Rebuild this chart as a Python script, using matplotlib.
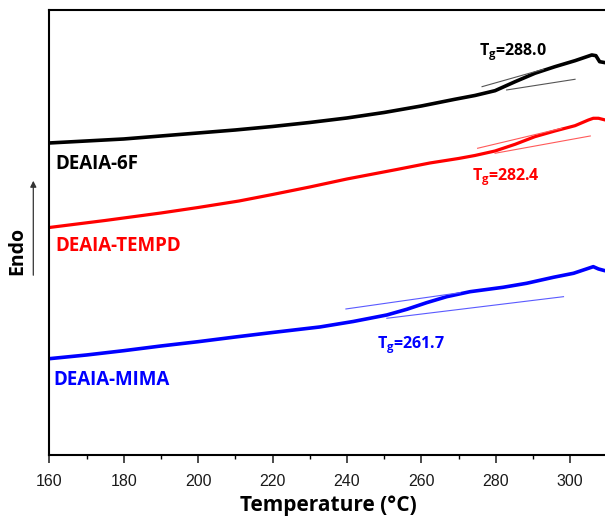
import numpy as np
import matplotlib.pyplot as plt
from matplotlib.ticker import MultipleLocator

plt.rcParams['font.family'] = ['Open Sans', 'DejaVu Sans']
plt.rcParams['mathtext.fontset'] = 'custom'
plt.rcParams['mathtext.rm'] = 'Open Sans'
plt.rcParams['mathtext.bf'] = 'Open Sans:bold'

# DSC traces (heat flow, arbitrary units, endo up)
t_6f = [160, 170, 180, 190, 200, 210, 220, 230, 240, 250, 260, 269, 274.4,
        279.8, 285.2, 290.5, 295.9, 301.3, 305.8, 306.9, 307.9, 309.4, 310]
hf_6f = [3.12, 3.14, 3.16, 3.19, 3.22, 3.25, 3.285, 3.325, 3.37, 3.425, 3.49,
         3.557, 3.595, 3.643, 3.733, 3.817, 3.883, 3.943, 4.00, 3.993, 3.933,
         3.923, 3.92]

t_tempd = [160, 175, 190, 200, 211, 220, 230, 240, 253.4, 262.3, 270, 274.4,
           279.8, 285.2, 290.5, 295.9, 301.3, 304.9, 306.2, 307.6, 309.4, 310]
hf_tempd = [2.275, 2.345, 2.42, 2.475, 2.54, 2.605, 2.68, 2.76, 2.855, 2.92,
            2.965, 2.995, 3.04, 3.107, 3.183, 3.24, 3.293, 3.35, 3.367, 3.367,
            3.35, 3.345]

t_mima = [160, 170, 180, 190, 200, 210, 220, 232.7, 241.7, 250.7, 256.1, 261.4,
          266.8, 273.1, 282, 288.3, 295.5, 300.9, 306.2, 307.6, 309.3, 310]
hf_mima = [0.963, 1.00, 1.043, 1.09, 1.133, 1.18, 1.225, 1.28, 1.335, 1.40,
           1.457, 1.523, 1.583, 1.633, 1.677, 1.717, 1.777, 1.817, 1.883, 1.86,
           1.843, 1.84]

# tangent construction lines: (T0, T1), (hf0, hf1)
tan_6f = [((276.3, 292.8), (3.683, 3.857)), ((282.9, 301.3), (3.65, 3.757))]
tan_tempd = [((275.1, 297.7), (3.067, 3.267)), ((279.8, 305.4), (3.017, 3.19))]
tan_mima = [((239.7, 270.4), (1.46, 1.623)), ((250.7, 298.2), (1.367, 1.583))]

samples = ["DEAIA-6F", "DEAIA-TEMPD", "DEAIA-MIMA"]
tg_values = [288.0, 282.4, 261.7]

fig = plt.figure(figsize=(6.05, 5.22), dpi=100)
ax = fig.add_axes([0.0817, 0.1284, 0.9223, 0.8525])

ax.plot(t_6f, hf_6f, color="black", lw=2.6)
ax.plot(t_tempd, hf_tempd, color="#ff0000", lw=2.3)
ax.plot(t_mima, hf_mima, color="#0000ff", lw=2.6)

for (tx, hy) in tan_6f:
    ax.plot(tx, hy, color="#555555", lw=0.8)
for (tx, hy) in tan_tempd:
    ax.plot(tx, hy, color="#ff5a5a", lw=0.8)
for (tx, hy) in tan_mima:
    ax.plot(tx, hy, color="#5a5aff", lw=0.8)

# sample names
ax.text(161.5, 2.857, samples[0], color="black", fontsize=13.5,
        fontweight="bold", ha="left", va="baseline")
ax.text(161.5, 2.043, samples[1], color="#ff0000", fontsize=13.5,
        fontweight="bold", ha="left", va="baseline")
ax.text(161.0, 0.70, samples[2], color="#0000ff", fontsize=13.5,
        fontweight="bold", ha="left", va="baseline")

# Tg annotations
ax.text(275.5, 4.00, r"T$_{\mathbf{g}}$=%.1f" % tg_values[0], color="black",
        fontsize=11.5, fontweight="bold", ha="left", va="baseline")
ax.text(273.6, 2.75, r"T$_{\mathbf{g}}$=%.1f" % tg_values[1], color="#ff0000",
        fontsize=11.5, fontweight="bold", ha="left", va="baseline")
ax.text(248.0, 1.07, r"T$_{\mathbf{g}}$=%.1f" % tg_values[2], color="#0000ff",
        fontsize=11.5, fontweight="bold", ha="left", va="baseline")

ax.set_xlim(160, 310)
ax.set_ylim(0, 4.45)
ax.xaxis.set_major_locator(MultipleLocator(20))
ax.xaxis.set_minor_locator(MultipleLocator(10))
ax.set_yticks([])
ax.tick_params(axis="x", which="major", direction="out", length=6, width=1.1,
               labelsize=11.5, colors="#1a1a1a", pad=8)
ax.tick_params(axis="x", which="minor", direction="out", length=3, width=1.0)
for lab in ax.get_xticklabels():
    lab.set_fontfamily("Liberation Sans")
for side in ["left", "bottom", "top"]:
    ax.spines[side].set_linewidth(1.5)
ax.spines["right"].set_visible(False)

ax.set_xlabel("Temperature (°C)", fontsize=15, fontweight="bold", labelpad=4)

# "Endo" marker with arrow
fig.text(17.5 / 605, 1 - 250.5 / 522, "Endo", rotation=90, fontsize=14,
         fontweight="bold", ha="center", va="center")
ax.annotate("", xy=(33.3 / 605, 1 - 178 / 522), xytext=(33.3 / 605, 1 - 278 / 522),
            xycoords="figure fraction", textcoords="figure fraction",
            arrowprops=dict(arrowstyle="-|>", color="#333333", lw=0.9,
                            mutation_scale=9))

fig.savefig("out.png", dpi=100)
